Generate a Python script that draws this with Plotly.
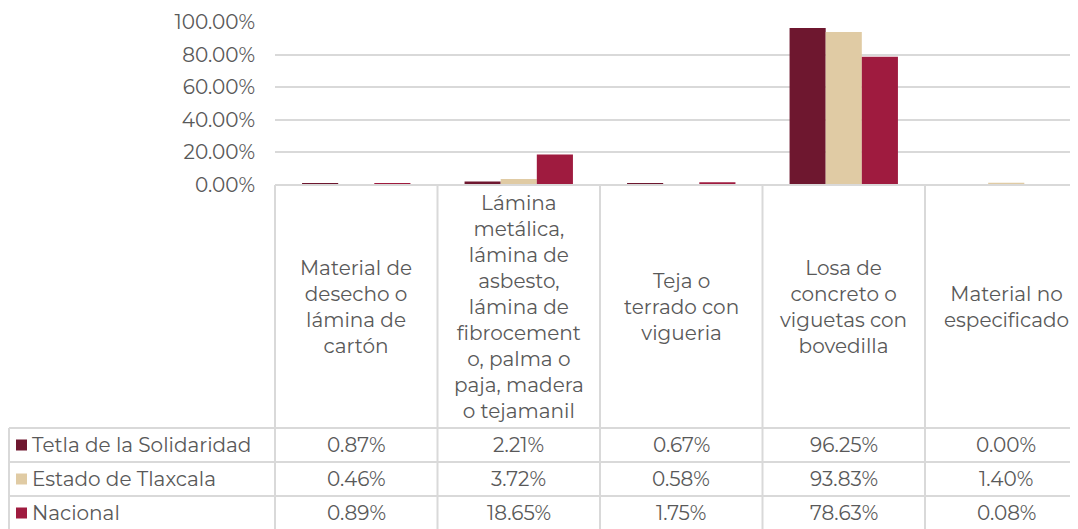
import plotly.graph_objects as go

# The page adds an 8px body margin, so the figure is drawn 8px smaller and
# every reference pixel position is shifted by that offset.
OFF = 8
W, H = 1078 - OFF, 529 - OFF

categories = [
    "Material de<br>desecho o<br>lámina de<br>cartón",
    "Lámina<br>metálica,<br>lámina de<br>asbesto,<br>lámina de<br>fibrocement<br>o, palma o<br>paja, madera<br>o tejamanil",
    "Teja o<br>terrado con<br>vigueria",
    "Losa de<br>concreto o<br>viguetas con<br>bovedilla",
    "Material no<br>especificado",
]
series_names = ["Tetla de la Solidaridad", "Estado de Tlaxcala", "Nacional"]
tetla = [0.0087, 0.0221, 0.0067, 0.9625, 0.0000]
tlaxcala = [0.0046, 0.0372, 0.0058, 0.9383, 0.0140]
nacional = [0.0089, 0.1865, 0.0175, 0.7863, 0.0008]
colors = ["#6E172F", "#E0CBA4", "#9F1B3F"]
y_ticks = [0, 0.2, 0.4, 0.6, 0.8, 1.0]

FONT = "Montserrat, Open Sans, sans-serif"
FS = 20
TXT = "#595959"
LINE = "#D9D9D9"

def px(x):
    return (x - OFF) / W

def py(y):
    return 1 - (y - OFF) / H

x_left, col_w = 275, 162.5
y_zero, y_top = 185, 22
row_lines = [428, 462, 496, 530]
n = len(categories)
x_range_max = -0.5 + (1078 - x_left) / col_w

fig = go.Figure()
for name, vals, c in zip(series_names, [tetla, tlaxcala, nacional], colors):
    fig.add_trace(go.Bar(x=list(range(n)), y=vals, name=name,
                         marker=dict(color=c, line=dict(width=0))))

shapes = []
shapes.append(dict(type="line", xref="paper", yref="paper", x0=px(x_left), x1=1,
                   y0=py(y_zero), y1=py(y_zero), line=dict(color=LINE, width=2)))
for yl in row_lines[:-1]:
    shapes.append(dict(type="line", xref="paper", yref="paper", x0=px(9), x1=1,
                       y0=py(yl), y1=py(yl), line=dict(color=LINE, width=2)))
for i in range(n):
    xv = x_left + i * col_w
    shapes.append(dict(type="line", xref="paper", yref="paper", x0=px(xv), x1=px(xv),
                       y0=py(y_zero), y1=0, line=dict(color=LINE, width=2)))
shapes.append(dict(type="line", xref="paper", yref="paper", x0=px(9), x1=px(9),
                   y0=py(428), y1=0, line=dict(color=LINE, width=2)))

annotations = []
for i, cat in enumerate(categories):
    xc = x_left + (i + 0.5) * col_w
    annotations.append(dict(xref="paper", yref="paper", x=px(xc), y=py((y_zero + 428) / 2),
                            text=cat, showarrow=False, xanchor="center", yanchor="middle",
                            align="center", font=dict(family=FONT, size=FS, color=TXT)))
for r, (name, vals, c) in enumerate(zip(series_names, [tetla, tlaxcala, nacional], colors)):
    yc = (row_lines[r] + row_lines[r + 1]) / 2
    shapes.append(dict(type="rect", xref="paper", yref="paper", x0=px(16), x1=px(27),
                       y0=py(yc + 5.5), y1=py(yc - 5.5), fillcolor=c, line=dict(width=0)))
    annotations.append(dict(xref="paper", yref="paper", x=px(30), y=py(yc), text=name,
                            showarrow=False, xanchor="left", yanchor="middle",
                            font=dict(family=FONT, size=FS, color=TXT)))
    for i, v in enumerate(vals):
        xc = x_left + (i + 0.5) * col_w
        annotations.append(dict(xref="paper", yref="paper", x=px(xc), y=py(yc),
                                text=f"{v*100:.2f}%", showarrow=False, xanchor="center",
                                yanchor="middle", font=dict(family=FONT, size=FS, color=TXT)))

fig.update_layout(
    width=W, height=H, margin=dict(l=0, r=0, t=0, b=0, autoexpand=False),
    paper_bgcolor="white", plot_bgcolor="white",
    barmode="group", bargap=0.333, bargroupgap=0,
    showlegend=False,
    shapes=shapes, annotations=annotations,
    xaxis=dict(domain=[px(x_left), 1], range=[-0.5, x_range_max],
               showticklabels=False, showgrid=False, zeroline=False, fixedrange=True,
               automargin=False),
    yaxis=dict(domain=[py(y_zero), py(y_top)], range=[0, 1.0], tickvals=y_ticks,
               tickformat=".2%", showgrid=True, gridcolor=LINE, gridwidth=1.5,
               zeroline=False, ticks="", ticklabelstandoff=19, automargin=False,
               tickfont=dict(family=FONT, size=FS, color=TXT)),
)

fig.write_html("out.html")
